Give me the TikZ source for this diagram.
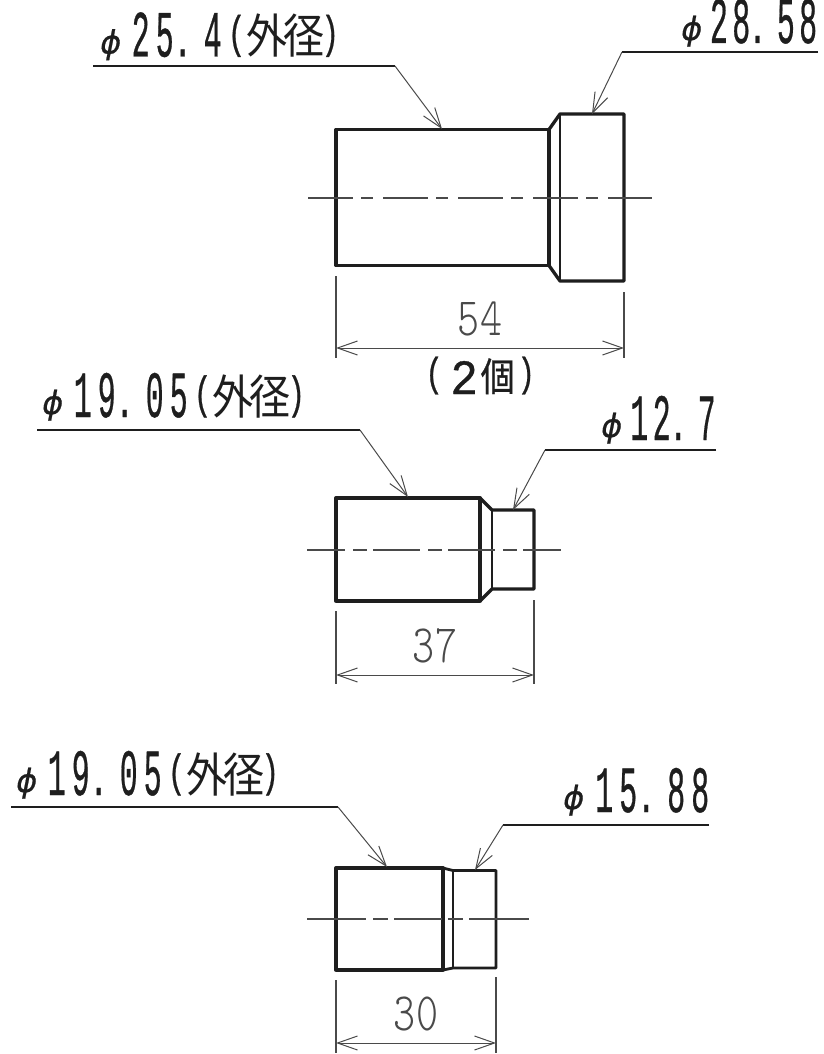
\documentclass[tikz,border=0pt]{standalone}
\usepackage{fontspec}
\usepackage{graphicx}
\usetikzlibrary{arrows.meta}
\newfontfamily\monof[FakeBold=0.7]{Liberation Mono}
\newfontfamily\cjkf{Noto Sans CJK JP}
\newfontfamily\cjkbf[FakeBold=0.8]{Noto Sans CJK JP}
\newfontfamily\phif[FakeBold=0.6]{DejaVu Sans}
\newfontfamily\thinf{Latin Modern Mono Light}
\newlength{\pitch}
\newcommand{\dg}[1]{\scalebox{1}[2.2]{\fontsize{30}{30}\selectfont\monof #1}}
\newcommand{\cc}[1]{\makebox[\pitch][c]{\dg{#1}}}
\newcommand{\dt}{\makebox[\pitch][c]{\hspace{-12pt}\scalebox{1.1}[1.6]{\fontsize{30}{30}\selectfont\monof .}}}
\newcommand{\pl}{\makebox[\pitch][c]{\raisebox{9pt}{\scalebox{1}[1.5]{\fontsize{30}{30}\selectfont\monof (}}}}
\newcommand{\pr}{\makebox[15pt][c]{\raisebox{9pt}{\scalebox{1}[1.5]{\fontsize{30}{30}\selectfont\monof )}}}}
\newcommand{\cj}[1]{\makebox[37pt][c]{\raisebox{3pt}{\scalebox{1}[1.15]{\fontsize{41}{41}\selectfont\cjkf #1}}}}
\newcommand{\ph}[1]{\makebox[#1][l]{\raisebox{3pt}{\fontsize{32}{32}\selectfont\phif\itshape ϕ}}}
\newcommand{\thn}[1]{\scalebox{1.05}[1.35]{\fontsize{40}{40}\selectfont\thinf #1}}
\definecolor{ink}{HTML}{1E1E1E}
\definecolor{fine}{HTML}{4A4A4A}
\tikzset{
  x=1pt,y=-1pt,
  outline/.style={draw=ink,line width=3.3pt,line join=round,line cap=round},
  outlinethin/.style={draw=ink,line width=2.8pt,line join=round},
  centre/.style={draw=fine,line width=1.2pt},
  leader/.style={draw=ink,line width=1.2pt},
  arrowed/.style={draw=fine,line width=1pt,-{Straight Barb[length=20pt,width=14pt]}},
  dimline/.style={draw=fine,line width=1pt,{Straight Barb[length=20pt,width=14pt]}-{Straight Barb[length=20pt,width=14pt]}},
  extline/.style={draw=fine,line width=1.1pt},
  note/.style={anchor=base west,inner sep=0pt,text=ink},
  dimtext/.style={anchor=base,inner sep=0pt,text=fine}
}
\begin{document}
\begin{tikzpicture}
\useasboundingbox[fill=white] (0,0) rectangle (823,1054);
% part 1
\draw[outline] (549,129.5) -- (336,129.5) -- (336,265.5) -- (549,265.5) -- cycle;
\draw[outline] (549,129.5) -- (560,114) -- (624,114) -- (624,281) -- (560,281) -- (549,265.5);
\draw[outlinethin] (560,114) -- (560,281);
\coordinate (c1a) at (308,198); \coordinate (c1b) at (652,198);
\draw[centre,dash pattern=on 45pt off 8pt on 12pt off 10pt] (c1a) -- (c1b);
% part 2
\draw[outline] (480,498) -- (336,498) -- (336,601) -- (480,601) -- cycle;
\draw[outline] (480,498) -- (492,510) -- (534,510) -- (534,589) -- (492,589) -- (480,601);
\draw[outlinethin] (492,510) -- (492,589);
\coordinate (c2a) at (307,550); \coordinate (c2b) at (562,550);
\draw[centre,dash pattern=on 38pt off 8pt on 14pt off 6pt on 47pt off 8pt on 14pt off 6pt on 47pt off 8pt on 14pt off 6pt] (c2a) -- (c2b);
% part 3
\draw[outline] (443,868) -- (336,868) -- (336,970) -- (443,970) -- cycle;
\draw[outlinethin] (443,868) -- (453,870.5) -- (496,870.5) -- (496,968) -- (453,968) -- (443,970);
\draw[outlinethin] (453,870.5) -- (453,968);
\coordinate (c3a) at (307,919); \coordinate (c3b) at (529,919);
\draw[centre,dash pattern=on 59pt off 7pt on 15pt off 6pt on 48pt off 6pt on 15pt off 6pt on 60pt] (c3a) -- (c3b);
% leaders
\coordinate (a1) at (93,66); \coordinate (a2) at (395,66); \coordinate (a3) at (442,129);
\draw[leader] (a1) -- (a2);
\draw[arrowed] (a2) -- (a3);
\coordinate (b1) at (818,52); \coordinate (b2) at (622,52); \coordinate (b3) at (592,114);
\draw[leader] (b1) -- (b2);
\draw[arrowed] (b2) -- (b3);
\coordinate (d1) at (37,430); \coordinate (d2) at (360,430); \coordinate (d3) at (408,497);
\draw[leader] (d1) -- (d2);
\draw[arrowed] (d2) -- (d3);
\coordinate (e1) at (716,450); \coordinate (e2) at (545,450); \coordinate (e3) at (513,510);
\draw[leader] (e1) -- (e2);
\draw[arrowed] (e2) -- (e3);
\coordinate (f1) at (11,807); \coordinate (f2) at (338,807); \coordinate (f3) at (387,867);
\draw[leader] (f1) -- (f2);
\draw[arrowed] (f2) -- (f3);
\coordinate (g1) at (709,825); \coordinate (g2) at (503,825); \coordinate (g3) at (475,870);
\draw[leader] (g1) -- (g2);
\draw[arrowed] (g2) -- (g3);
% dimensions
\coordinate (h1) at (336,276); \coordinate (h2) at (336,358); \coordinate (h3) at (624,292); \coordinate (h4) at (624,358);
\coordinate (h5) at (336,348); \coordinate (h6) at (624,348);
\draw[extline] (h1) -- (h2); \draw[extline] (h3) -- (h4); \draw[dimline] (h5) -- (h6);
\coordinate (i1) at (336,611); \coordinate (i2) at (336,684); \coordinate (i3) at (534,600); \coordinate (i4) at (534,684);
\coordinate (i5) at (336,675); \coordinate (i6) at (534,675);
\draw[extline] (i1) -- (i2); \draw[extline] (i3) -- (i4); \draw[dimline] (i5) -- (i6);
\coordinate (j1) at (336,980); \coordinate (j2) at (336,1053); \coordinate (j3) at (496,977); \coordinate (j4) at (496,1053);
\coordinate (j5) at (336,1043); \coordinate (j6) at (496,1043);
\draw[extline] (j1) -- (j2); \draw[extline] (j3) -- (j4); \draw[dimline] (j5) -- (j6);
% texts
\node[note] (t1) at (100,56.5) {\setlength{\pitch}{24pt}\ph{28.5pt}\cc{2}\cc{5}\dt\cc{4}\pl\cj{外}\cj{径}\pr};
\node[note] (t2) at (681,43) {\setlength{\pitch}{22.3pt}\ph{26.6pt}\cc{2}\cc{8}\dt\cc{5}\cc{8}};
\node[note] (t3) at (42,417) {\setlength{\pitch}{24pt}\ph{28.5pt}\cc{1}\cc{9}\dt\cc{0}\cc{5}\pl\cj{外}\cj{径}\pr};
\node[note] (t4) at (601,440) {\setlength{\pitch}{22.5pt}\ph{26.75pt}\cc{1}\cc{2}\dt\cc{7}};
\node[note] (t5) at (16,795) {\setlength{\pitch}{24pt}\ph{28.5pt}\cc{1}\cc{9}\dt\cc{0}\cc{5}\pl\cj{外}\cj{径}\pr};
\node[note] (t6) at (563,812) {\setlength{\pitch}{24pt}\ph{29pt}\cc{1}\cc{5}\dt\cc{8}\cc{8}};
\node[note] (t7) at (424,394) {\makebox[20pt][c]{\raisebox{8pt}{\scalebox{1}[1.35]{\fontsize{30}{30}\selectfont\monof (}}}\makebox[40pt][c]{\scalebox{1}[1.07]{\fontsize{46}{46}\selectfont\monof 2}}\makebox[27pt][c]{\raisebox{3pt}{\scalebox{1}[1.15]{\fontsize{34}{34}\selectfont\cjkbf 個}}}\makebox[30pt][c]{\raisebox{8pt}{\scalebox{1}[1.35]{\fontsize{30}{30}\selectfont\monof )}}}};
\node[dimtext] (t8) at (480,335) {\thn{54}};
\node[dimtext] (t9) at (435,662) {\thn{37}};
\node[dimtext] (t10) at (416,1030) {\thn{30}};
\end{tikzpicture}
\end{document}
